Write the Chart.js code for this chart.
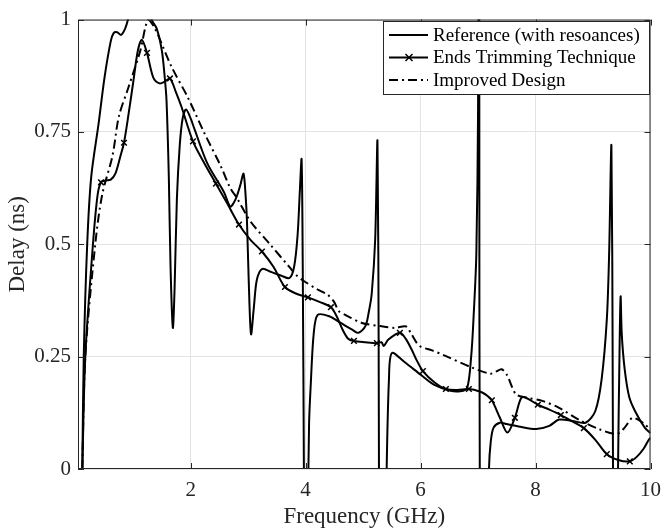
<!DOCTYPE html>
<html>
<head>
<meta charset="utf-8">
<script src="https://cdn.jsdelivr.net/npm/chart.js@4.4.1/dist/chart.umd.min.js"></script>
<style>
  html, body { margin: 0; padding: 0; background: #fff; }
</style>
</head>
<body>
<canvas id="myChart" width="670" height="531"></canvas>
<script>
// Tick labels
const xTicks = [2, 4, 6, 8, 10];
const yTicks = [0, 0.25, 0.5, 0.75, 1];

// Reference (with resoances)
const refFreq = [0.115, 0.14, 0.2, 0.27, 0.4, 0.5, 0.61, 0.66, 0.72, 0.79, 0.86, 0.91, 1.0, 1.1, 1.2, 1.32, 1.41, 1.5, 1.55, 1.58, 1.62, 1.65, 1.69, 1.72, 1.76, 1.81, 1.86, 1.92, 2.0, 2.07, 2.29, 2.58, 2.69, 2.78, 2.86, 2.92, 2.96, 2.98, 3.01, 3.05, 3.1, 3.15, 3.24, 3.41, 3.58, 3.72, 3.8, 3.86, 3.9, 3.93, 3.95, 3.97, 4.0, 4.03, 4.06, 4.09, 4.14, 4.21, 4.41, 4.61, 4.81, 4.92, 5.04, 5.1, 5.15, 5.21, 5.25, 5.27, 5.285, 5.32, 5.38, 5.41, 5.45, 5.5, 5.72, 6.01, 6.24, 6.52, 6.69, 6.81, 6.88, 6.92, 6.97, 7.0, 7.02, 7.04, 7.12, 7.19, 7.22, 7.27, 7.38, 7.5, 7.73, 8.01, 8.24, 8.41, 8.64, 8.87, 9.04, 9.15, 9.24, 9.28, 9.32, 9.34, 9.36, 9.4, 9.435, 9.46, 9.48, 9.5, 9.55, 9.63, 9.73, 9.9, 10.0];
const refDelay = [0, 0.25, 0.5, 0.65, 0.77, 0.87, 0.952, 0.97, 0.972, 0.966, 0.98, 1.0, 1.05, 1.08, 1.06, 1.0, 0.98, 0.93, 0.87, 0.82, 0.65, 0.45, 0.314, 0.4, 0.6, 0.72, 0.78, 0.8, 0.78, 0.755, 0.68, 0.616, 0.584, 0.6, 0.63, 0.657, 0.6, 0.55, 0.42, 0.3, 0.36, 0.42, 0.445, 0.438, 0.43, 0.425, 0.45, 0.52, 0.62, 0.689, 0.45, 0.0, -0.6, -0.2, 0.1, 0.19, 0.3, 0.343, 0.34, 0.325, 0.31, 0.303, 0.318, 0.35, 0.39, 0.51, 0.73, 0.3, -0.3, -0.6, -0.3, 0.0, 0.2, 0.258, 0.238, 0.209, 0.187, 0.174, 0.173, 0.18, 0.25, 0.333, 0.478, 0.8, 1.5, -0.5, -0.6, 0.0, 0.06, 0.092, 0.103, 0.1, 0.094, 0.089, 0.096, 0.11, 0.107, 0.103, 0.129, 0.2, 0.333, 0.478, 0.72, 0.3, -0.3, -0.5, 0.0, 0.25, 0.384, 0.3, 0.223, 0.16, 0.129, 0.092, 0.08];

// Ends Trimming Technique
const ettFreq = [0.115, 0.167, 0.3, 0.38, 0.44, 0.52, 0.61, 0.69, 0.78, 0.84, 0.92, 1.0, 1.08, 1.15, 1.24, 1.35, 1.46, 1.55, 1.64, 1.74, 1.84, 2.04, 2.24, 2.44, 2.64, 2.84, 3.04, 3.24, 3.44, 3.64, 3.84, 4.04, 4.24, 4.44, 4.54, 4.64, 4.74, 4.84, 5.04, 5.24, 5.32, 5.36, 5.44, 5.64, 5.74, 5.84, 5.94, 6.04, 6.24, 6.44, 6.64, 6.84, 7.04, 7.14, 7.24, 7.38, 7.51, 7.64, 7.75, 7.84, 8.04, 8.24, 8.44, 8.64, 8.84, 9.04, 9.24, 9.44, 9.64, 9.76, 9.88, 9.96, 10.0];
const ettDelay = [0, 0.25, 0.5, 0.609, 0.638, 0.642, 0.644, 0.657, 0.697, 0.726, 0.79, 0.86, 0.93, 0.955, 0.926, 0.871, 0.858, 0.862, 0.869, 0.84, 0.806, 0.729, 0.68, 0.635, 0.59, 0.544, 0.51, 0.484, 0.45, 0.405, 0.39, 0.382, 0.372, 0.36, 0.34, 0.311, 0.29, 0.285, 0.282, 0.28, 0.282, 0.274, 0.288, 0.303, 0.29, 0.267, 0.24, 0.218, 0.193, 0.178, 0.176, 0.178, 0.172, 0.165, 0.153, 0.114, 0.081, 0.114, 0.158, 0.158, 0.143, 0.132, 0.12, 0.106, 0.091, 0.065, 0.033, 0.02, 0.017, 0.027, 0.045, 0.063, 0.07];
const ettMarks = [0.44, 0.84, 1.24, 1.64, 2.04, 2.44, 2.84, 3.24, 3.64, 4.04, 4.44, 4.84, 5.24, 5.64, 6.04, 6.44, 6.84, 7.24, 7.64, 8.04, 8.44, 8.84, 9.24, 9.64];

// Improved Design
const impFreq = [0.115, 0.167, 0.34, 0.46, 0.64, 0.75, 0.92, 1.12, 1.26, 1.38, 1.66, 1.95, 2.24, 2.52, 2.69, 2.81, 3.04, 3.38, 3.72, 3.84, 3.95, 4.2, 4.38, 4.49, 4.58, 4.69, 4.98, 5.3, 5.55, 5.75, 5.84, 5.98, 6.2, 6.41, 6.87, 7.21, 7.3, 7.41, 7.5, 7.6, 7.67, 7.84, 8.13, 8.41, 8.75, 9.1, 9.41, 9.55, 9.68, 9.75, 9.9, 10.0];
const impDelay = [0, 0.25, 0.5, 0.61, 0.697, 0.784, 0.85, 0.929, 1.0, 0.98, 0.897, 0.827, 0.747, 0.675, 0.625, 0.602, 0.551, 0.5, 0.449, 0.431, 0.42, 0.4, 0.388, 0.373, 0.351, 0.343, 0.325, 0.318, 0.314, 0.317, 0.3, 0.274, 0.264, 0.253, 0.227, 0.212, 0.216, 0.222, 0.21, 0.18, 0.165, 0.159, 0.151, 0.136, 0.11, 0.089, 0.078, 0.092, 0.114, 0.112, 0.1, 0.086];

const seriesNames = ["Reference (with resoances)", "Ends Trimming Technique", "Improved Design"];

const font = "Liberation Serif";
const axisColor = "#262626";
const gridColor = "#e3e3e3";
const dashDot = [9, 4, 2, 4];

function toPoints(xs, ys) {
  return xs.map((x, i) => ({ x: x, y: ys[i] }));
}

// box round the plot with the small inward ticks
const framePlugin = {
  id: "frame",
  afterDatasetsDraw(chart) {
    const { ctx, chartArea: a, scales } = chart;
    ctx.save();
    ctx.strokeStyle = axisColor;
    ctx.lineWidth = 1;
    ctx.strokeRect(a.left + 0.5, a.top + 0.5, a.right - a.left - 1, a.bottom - a.top - 1);
    ctx.beginPath();
    xTicks.forEach((v) => {
      const px = Math.round(scales.x.getPixelForValue(v)) + 0.5;
      ctx.moveTo(px, a.bottom); ctx.lineTo(px, a.bottom - 6);
      ctx.moveTo(px, a.top); ctx.lineTo(px, a.top + 6);
    });
    yTicks.forEach((v) => {
      const py = Math.round(scales.y.getPixelForValue(v)) + 0.5;
      ctx.moveTo(a.left, py); ctx.lineTo(a.left + 6, py);
      ctx.moveTo(a.right, py); ctx.lineTo(a.right - 6, py);
    });
    ctx.stroke();
    ctx.restore();
  },
};

// legend box in the top right corner
const legendPlugin = {
  id: "boxLegend",
  afterDraw(chart) {
    const ctx = chart.ctx;
    const bx = 383, by = 21, bw = 266, bh = 73;
    ctx.save();
    ctx.fillStyle = "#fff";
    ctx.fillRect(bx, by, bw, bh);
    ctx.strokeStyle = axisColor;
    ctx.lineWidth = 1;
    ctx.strokeRect(bx + 0.5, by + 0.5, bw, bh);
    ctx.font = "19px '" + font + "'";
    ctx.textBaseline = "middle";
    ctx.fillStyle = "#000";
    seriesNames.forEach((name, i) => {
      const y = by + 14 + i * 22.5;
      ctx.strokeStyle = "#000";
      ctx.lineWidth = 2;
      ctx.setLineDash(i === 2 ? dashDot : []);
      ctx.beginPath();
      ctx.moveTo(389, y);
      ctx.lineTo(428, y);
      ctx.stroke();
      ctx.setLineDash([]);
      if (i === 1) {
        ctx.lineWidth = 1.5;
        ctx.beginPath();
        ctx.moveTo(405.5, y - 3.5); ctx.lineTo(412.5, y + 3.5);
        ctx.moveTo(405.5, y + 3.5); ctx.lineTo(412.5, y - 3.5);
        ctx.stroke();
      }
      ctx.fillText(name, 433, y + 1);
    });
    ctx.restore();
  },
};

new Chart(document.getElementById("myChart"), {
  type: "line",
  data: {
    datasets: [
      {
        label: seriesNames[0],
        data: toPoints(refFreq, refDelay),
        borderColor: "#000",
        borderWidth: 2,
        pointRadius: 0,
        tension: 0.3,
        clip: 0,
      },
      {
        label: seriesNames[1],
        data: toPoints(ettFreq, ettDelay),
        borderColor: "#000",
        borderWidth: 2,
        pointStyle: "crossRot",
        pointRadius: (c) => (c.raw && ettMarks.includes(c.raw.x) ? 4 : 0),
        pointBorderWidth: 1.5,
        pointBorderColor: "#000",
        tension: 0.3,
        clip: 0,
      },
      {
        label: seriesNames[2],
        data: toPoints(impFreq, impDelay),
        borderColor: "#000",
        borderWidth: 2,
        borderDash: dashDot,
        pointRadius: 0,
        tension: 0.3,
        clip: 0,
      },
    ],
  },
  options: {
    responsive: false,
    animation: false,
    devicePixelRatio: 1,
    layout: { padding: { top: 11, right: 11, left: 0, bottom: 0 } },
    plugins: { legend: { display: false }, tooltip: { enabled: false } },
    scales: {
      x: {
        type: "linear",
        min: 0.04,
        max: 10,
        afterBuildTicks: (axis) => { axis.ticks = xTicks.map((v) => ({ value: v })); },
        afterFit: (axis) => { axis.height = 62; },
        grid: { color: gridColor, drawTicks: false },
        border: { display: false },
        ticks: { color: axisColor, font: { family: font, size: 21 }, padding: 9, maxRotation: 0 },
        title: { display: true, text: "Frequency (GHz)", color: axisColor, font: { family: font, size: 23 }, padding: 0 },
      },
      y: {
        min: 0,
        max: 1,
        afterBuildTicks: (axis) => { axis.ticks = yTicks.map((v) => ({ value: v })); },
        afterFit: (axis) => { axis.width = 78; },
        grid: { color: gridColor, drawTicks: false },
        border: { display: false },
        ticks: { color: axisColor, font: { family: font, size: 21 }, padding: 7, callback: (v) => String(v) },
        title: { display: true, text: "Delay (ns)", color: axisColor, font: { family: font, size: 23 }, padding: { top: 4, bottom: 0 } },
      },
    },
  },
  plugins: [framePlugin, legendPlugin],
});
</script>
</body>
</html>
